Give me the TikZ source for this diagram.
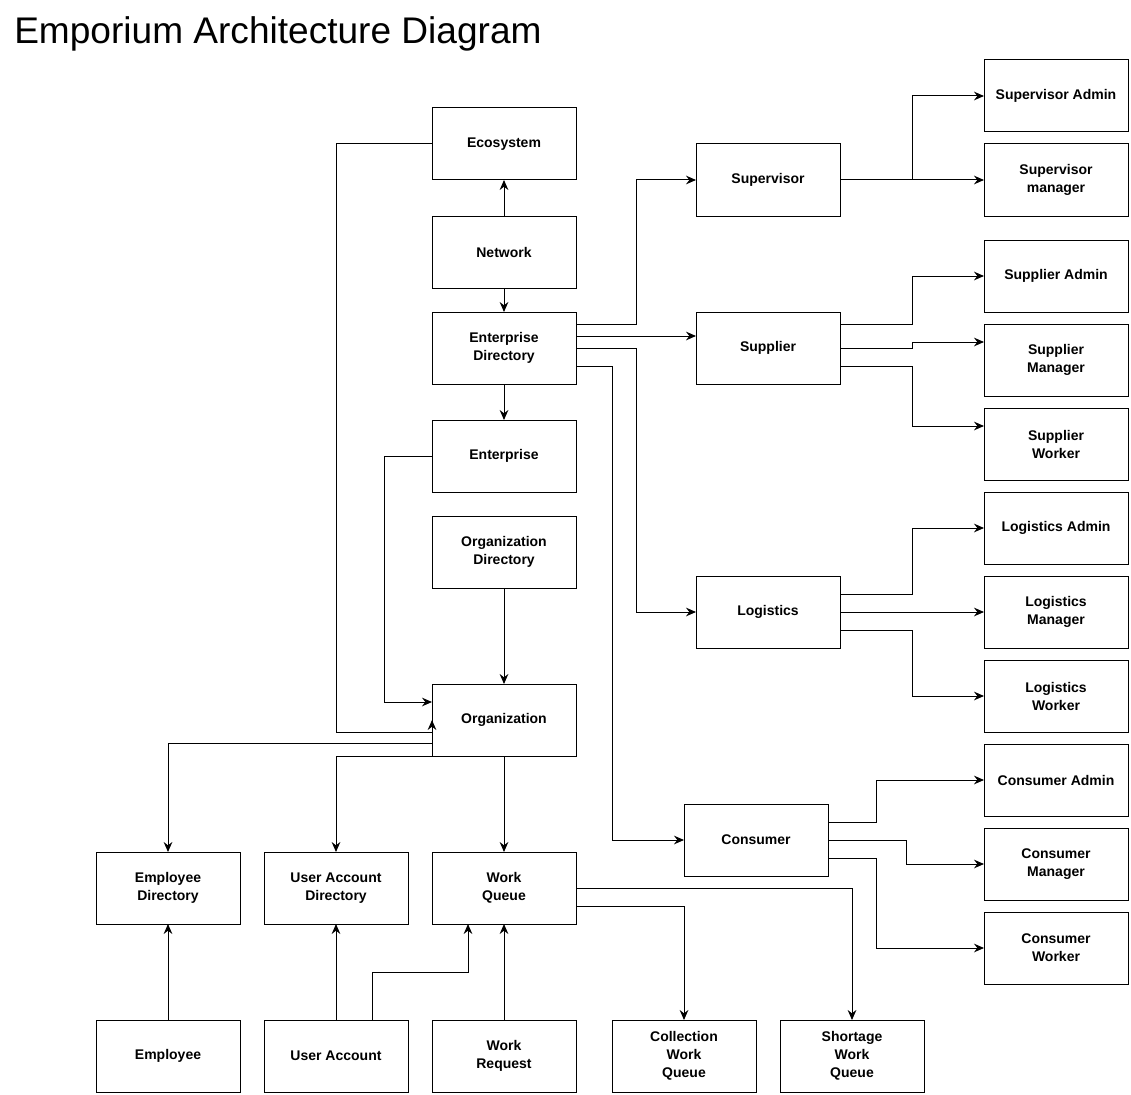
\documentclass[tikz,border=0pt]{standalone}
\usepackage{fontspec}
\setmainfont{Liberation Sans}
\usetikzlibrary{arrows.meta,calc}

\tikzset{
  entity/.style={draw, line width=0.75pt, minimum width=108pt, minimum height=54pt,
    inner sep=0pt, outer sep=0pt, align=center,
    font=\bfseries\fontsize{10.5}{13.5}\selectfont},
  link/.style={line width=0.75pt, -{Stealth[length=7.5pt,width=6.5pt,inset=2.5pt]}},
  wire/.style={line width=0.75pt}
}

\begin{document}
\begin{tikzpicture}[x=0.75pt,y=-0.75pt]
  \useasboundingbox (0,0) rectangle (1131,1095);

  \node[anchor=base west, inner sep=0pt, font=\fontsize{27.8}{33}\selectfont] (title) at (14,44) {Emporium Architecture Diagram};

  % middle column
  \node[entity] (eco) at (504,144) {Ecosystem};
  \node[entity] (net) at (504,252) {Network};
  \node[entity] (ed) at (504,348) {Enterprise\\Directory};
  \node[entity] (ent) at (504,456) {Enterprise};
  \node[entity] (orgdir) at (504,552) {Organization\\Directory};
  \node[entity] (org) at (504,720) {Organization};

  % bottom rows
  \node[entity] (empdir) at (168,888) {Employee\\Directory};
  \node[entity] (uadir) at (336,888) {User Account\\Directory};
  \node[entity] (wq) at (504,888) {Work\\Queue};
  \node[entity] (emp) at (168,1056) {Employee};
  \node[entity] (ua) at (336,1056) {User Account};
  \node[entity] (wr) at (504,1056) {Work\\Request};
  \node[entity] (cwq) at (684,1056) {Collection\\Work\\Queue};
  \node[entity] (swq) at (852,1056) {Shortage\\Work\\Queue};

  % enterprises
  \node[entity] (sup) at (768,180) {Supervisor};
  \node[entity] (spl) at (768,348) {Supplier};
  \node[entity] (log) at (768,612) {Logistics};
  \node[entity] (con) at (756,840) {Consumer};

  % roles
  \foreach \y/\name/\txt in {96/sa/{Supervisor Admin}, 180/sm/{Supervisor\\manager},
      276/spa/{Supplier Admin}, 360/spm/{Supplier\\Manager}, 444/spw/{Supplier\\Worker},
      528/la/{Logistics Admin}, 612/lm/{Logistics\\Manager}, 696/lw/{Logistics\\Worker},
      780/ca/{Consumer Admin}, 864/cm/{Consumer\\Manager}, 948/cw/{Consumer\\Worker}}{
    \node[entity] (\name) at (1056,\y) {\txt};
  }

  \draw[link] (net.north) -- (eco.south);
  \draw[link] (net.south) -- (ed.north);
  \draw[link] (ed.south) -- (ent.north);
  \draw[link] (orgdir.south) -- (org.north);

  \draw[link] (eco.west) -- ++(-96,0) |- ([yshift=-9pt]org.west) -- (org.west);
  \draw[link] (ent.west) -- ++(-48,0) |- ($(org.north west)!0.25!(org.south west)$);

  \draw[link] ($(org.north west)!0.833!(org.south west)$) -| (empdir.north);
  \draw[link] (org.south west) -| (uadir.north);
  \draw[link] (org.south) -- (wq.north);

  \draw[link] (emp.north) -- (empdir.south);
  \draw[link] (ua.north) -- (uadir.south);
  \draw[link] ([xshift=27pt]ua.north) -- ++(0,-48) -| ([xshift=-27pt]wq.south);
  \draw[link] (wr.north) -- (wq.south);
  \draw[link] ([yshift=-13.5pt]wq.east) -| (cwq.north);
  \draw[link] (wq.east) -| (swq.north);

  % enterprise directory to enterprises
  \draw[link] ([yshift=18pt]ed.east) -- ++(60,0) |- (sup.west);
  \draw[link] ([yshift=9pt]ed.east) -- ([yshift=9pt]spl.west);
  \draw[link] (ed.east) -- ++(60,0) |- (log.west);
  \draw[link] ([yshift=-13.5pt]ed.east) -- ++(36,0) |- (con.west);

  % enterprises to roles
  \draw[link] (sup.east) -- ++(72,0) |- (sa.west);
  \draw[link] (sup.east) -- (sm.west);

  \draw[link] ([yshift=18pt]spl.east) -- ++(72,0) |- (spa.west);
  \draw[link] (spl.east) -- ++(72,0) |- ([yshift=13.5pt]spm.west);
  \draw[link] ([yshift=-13.5pt]spl.east) -- ++(72,0) |- ([yshift=13.5pt]spw.west);

  \draw[link] ([yshift=13.5pt]log.east) -- ++(72,0) |- (la.west);
  \draw[link] (log.east) -- (lm.west);
  \draw[link] ([yshift=-13.5pt]log.east) -- ++(72,0) |- (lw.west);

  \draw[link] ([yshift=13.5pt]con.east) -- ++(48,0) |- (ca.west);
  \draw[link] (con.east) -- ++(78,0) |- (cm.west);
  \draw[link] ([yshift=-13.5pt]con.east) -- ++(48,0) |- (cw.west);
\end{tikzpicture}
\end{document}
